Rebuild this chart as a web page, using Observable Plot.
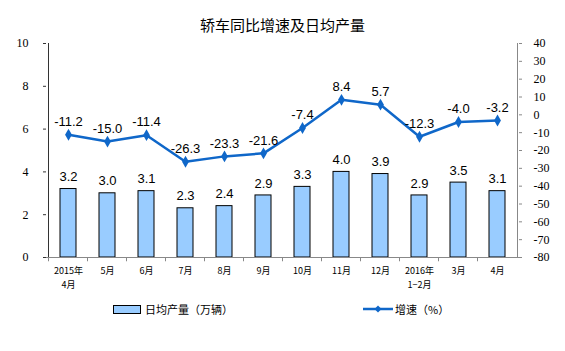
<!DOCTYPE html>
<html><head><meta charset="utf-8">
<script src="https://cdn.jsdelivr.net/npm/d3@7"></script>
<script src="https://cdn.jsdelivr.net/npm/@observablehq/plot@0.6"></script>
<style>
body{margin:0;background:#fff;}
#wrap{position:relative;width:565px;height:351px;font-family:"Noto Sans CJK SC",sans-serif;overflow:hidden;}
#title{position:absolute;top:15px;left:0;width:565px;text-align:center;font-size:15px;line-height:20px;color:#000;}
#chart{position:absolute;top:0;left:0;}
.leg{position:absolute;font-size:11px;line-height:14px;color:#000;}
</style>
</head><body>
<div id="wrap">
  <div id="chart"></div>
  <div id="title">轿车同比增速及日均产量</div>
  <div class="leg" style="left:113px;top:305px;width:26px;height:7px;background:#99ccff;border:1px solid #000;"></div>
  <div class="leg" style="left:145px;top:302px;">日均产量（万辆）</div>
  <svg class="leg" style="left:363px;top:303px;" width="30" height="12"><line x1="0" y1="6" x2="30" y2="6" stroke="#0f67c9" stroke-width="2.5"/><path d="M15,2.5L18.5,6L15,9.5L11.5,6Z" fill="#0f67c9"/></svg>
  <div class="leg" style="left:395px;top:302px;">增速（%）</div>
</div>
<script>
const months = ["2015年4月","5月","6月","7月","8月","9月","10月","11月","12月","2016年1−2月","3月","4月"];
const labelLine1 = ["2015年","5月","6月","7月","8月","9月","10月","11月","12月","2016年","3月","4月"];
const labelLine2 = ["4月","","","","","","","","","1−2月","",""];
const output = [3.2,3.0,3.1,2.3,2.4,2.9,3.3,4.0,3.9,2.9,3.5,3.1];
const growth = [-11.2,-15.0,-11.4,-26.3,-23.3,-21.6,-7.4,8.4,5.7,-12.3,-4.0,-3.2];
const leftTicks = [0,2,4,6,8,10];
const rightTicks = [-80,-70,-60,-50,-40,-30,-20,-10,0,10,20,30,40];

// map right axis (-80..40) onto left axis domain (0..10)
const toLeft = v => (v + 80) / 12;

const bars = months.map((m,i) => ({m, v: output[i]}));
const line = months.map((m,i) => ({m, g: growth[i], y: toLeft(growth[i])}));
const lineColor = "#0f67c9";

const chart = Plot.plot({
  width: 565, height: 351,
  marginTop: 43, marginBottom: 94, marginLeft: 43, marginRight: 43,
  style: {background: "#fff", color: "#000"},
  x: {type: "band", domain: months, paddingInner: 0.6, paddingOuter: 0.3, axis: null, label: null},
  y: {domain: [0, 10], axis: null, label: null},
  marks: [
    Plot.barY(bars, {x: "m", y: "v", fill: "#99ccff", stroke: "#000", strokeWidth: 1}),
    Plot.text(bars, {x: "m", y: "v", text: d => d.v.toFixed(1), dy: -12, fontSize: 13, fontFamily: "Liberation Sans, Arial, sans-serif", fill: "#000"}),
    // bottom axis line and category separators
    Plot.ruleY([0], {stroke: "#888", strokeWidth: 1}),
    Plot.ruleX(months, {x: d => d, y1: 0, y2: -0.2, dx: -20, stroke: "#888"}),
    // left axis line
    Plot.ruleX([months[0]], {x: d => d, y1: 0, y2: 10, dx: -20, stroke: "#333"}),
    // right axis line
    Plot.ruleX([months[months.length-1]], {x: d => d, y1: 0, y2: 10, dx: 20, stroke: "#888"}),
    // inward ticks
    Plot.ruleY(leftTicks, {stroke: "#333", insetRight: 476}),
    Plot.ruleY(rightTicks.map(toLeft), {stroke: "#888", insetLeft: 476}),
    Plot.axisY(leftTicks, {anchor: "left", label: null, tickSize: 0, tickPadding: 15, fontSize: 12, fontFamily: "Liberation Serif, serif", fill: "#000"}),
    Plot.axisY(rightTicks.map(toLeft), {anchor: "right", label: null, tickSize: 0, tickPadding: 11, textAnchor: "start", fontSize: 12, fontFamily: "Liberation Serif, serif", fill: "#000", tickFormat: d => String(Math.round(d * 12 - 80))}),
    Plot.axisX(months, {anchor: "bottom", label: null, tickSize: 0, tickPadding: 10, fontSize: 9, fontFamily: "Noto Sans CJK SC, sans-serif", fill: "#000", tickFormat: (d, i) => labelLine1[months.indexOf(d)]}),
    Plot.axisX(months.filter((d, i) => labelLine2[i]), {anchor: "bottom", label: null, tickSize: 0, tickPadding: 24, fontSize: 9, fontFamily: "Noto Sans CJK SC, sans-serif", fill: "#000", tickFormat: d => labelLine2[months.indexOf(d)]}),
    Plot.line(line, {x: "m", y: "y", stroke: lineColor, strokeWidth: 2.5}),
    Plot.dot(line, {x: "m", y: "y", symbol: "diamond", r: 3.6, fill: lineColor, stroke: "none"}),
    Plot.text(line, {x: "m", y: "y", text: d => d.g.toFixed(1), dy: -13, fontSize: 13, fontFamily: "Liberation Sans, Arial, sans-serif", fill: "#000"})
  ]
});
document.getElementById("chart").appendChild(chart);
</script>
</body></html>
